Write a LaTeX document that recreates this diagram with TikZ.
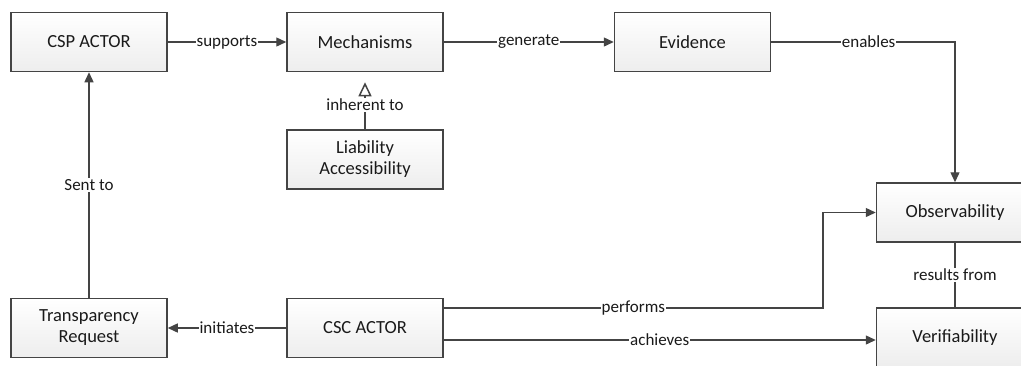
\documentclass[tikz,border=0pt]{standalone}
\usepackage{fontspec}
\setmainfont{Carlito}
\usetikzlibrary{arrows.meta,calc}
\definecolor{edge}{HTML}{444444}
\definecolor{ink}{HTML}{1A1A1A}
\tikzset{
  box/.style={draw=edge, line width=1.5pt, minimum width=156pt, minimum height=59pt,
    top color=white, bottom color=black!7, text=ink, align=center, inner sep=0pt,
    font=\fontsize{18.5}{21}\selectfont},
  conn/.style={draw=edge, line width=1.4pt, -{Triangle[length=10pt,width=9pt]}},
  plain/.style={draw=edge, line width=1.4pt},
  lbl/.style={fill=white, text=ink, inner sep=1pt, font=\fontsize{17}{19}\selectfont},
  inherit/.style={draw=edge, line width=1.5pt, -{Triangle[open,length=14pt,width=13pt,fill=white]}}
}
\begin{document}
\begin{tikzpicture}[x=1pt,y=-1pt]
  \useasboundingbox (0,0) rectangle (1021,365);

  % boxes
  \node[box] (csp)   at (89,42)     {CSP ACTOR};
  \node[box] (mech)  at (365,42)    {Mechanisms};
  \node[box] (evid)  at (692.5,42)  {Evidence};
  \node[box] (liab)  at (365,159.5) {Liability\\Accessibility};
  \node[box, minimum width=157pt] (obs)  at (955,212.5) {Observability};
  \node[box, minimum width=157pt] (veri) at (955,337.5) {Verifiability};
  \node[box] (trans) at (89,328)    {Transparency\\Request};
  \node[box] (csc)   at (365,328)   {CSC ACTOR};

  % connectors
  \draw[conn] (csp.east) -- node[lbl] {supports} (mech.west);
  \draw[conn] (mech.east) -- node[lbl] {generate} (evid.west);
  \draw[conn] (evid.east) -- node[lbl, pos=0.53] {enables} (evid.east -| obs.north) -- (obs.north);

  % inheritance link, split around its label
  \node[lbl] (inh) at (365,105) {inherent to};
  \draw[plain] (liab.north) -- (inh.south);
  \draw[inherit, shorten >=10pt] (inh.north) -- (mech.south);

  \draw[plain] (obs.south) -- node[lbl] {results from} (veri.north);
  \draw[conn] (trans.north) -- node[lbl] {Sent to} (csp.south);
  \draw[conn] (csc.west) -- node[lbl] {initiates} (trans.east);
  \coordinate (bend) at ([yshift=20pt]csc.east -| 823,0);
  \draw[conn] ([yshift=20pt]csc.east) -- node[lbl] {performs} (bend) |- (obs.west);
  \draw[conn] ([yshift=-12pt]csc.east) -- node[lbl] {achieves} ([yshift=-12pt]csc.east -| veri.west);
\end{tikzpicture}
\end{document}
